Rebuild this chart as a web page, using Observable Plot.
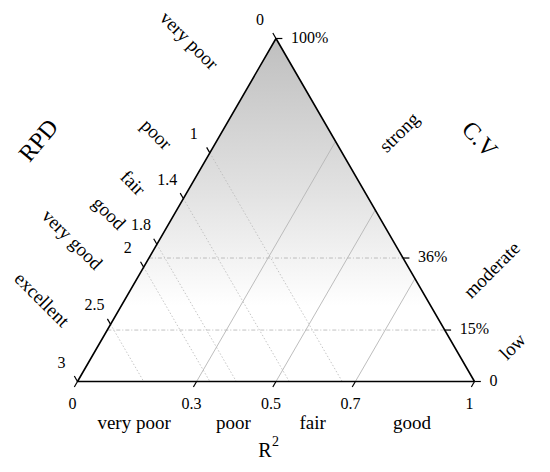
<!DOCTYPE html>
<html>
<head>
<meta charset="utf-8">
<script src="https://cdn.jsdelivr.net/npm/d3@7"></script>
<script src="https://cdn.jsdelivr.net/npm/@observablehq/plot@0.6"></script>
<style>
  html, body { margin: 0; padding: 0; background: #fff; }
  svg { display: block; }
</style>
</head>
<body>
<div id="chart"></div>
<script>
// ---- data ----
const r2Ticks = [0, 0.3, 0.5, 0.7, 1];
const r2TickLabels = ["0", "0.3", "0.5", "0.7", "1"];
const r2Classes = ["very poor", "poor", "fair", "good"];

const rpdTicks = [0, 1, 1.4, 1.8, 2, 2.5, 3];
const rpdTickLabels = ["0", "1", "1.4", "1.8", "2", "2.5", "3"];
const rpdClasses = ["very poor", "poor", "fair", "good", "very good", "excellent"];

const cvTicks = [0, 0.15, 0.36, 1];
const cvTickLabels = ["0", "15%", "36%", "100%"];
const cvClasses = ["low", "moderate", "strong"];

const rpdMax = 3;

// ---- ternary geometry (data space) ----
const H = Math.sqrt(3) / 2;
const bottomPt = r => [r, 0];
const rightPt = c => [1 - c / 2, c * H];
const leftPt = v => { const f = v / rpdMax; return [0.5 - 0.5 * f, H * (1 - f)]; };
const L = 0.016;

const mids = ticks => ticks.slice(0, -1).map((t, i) => (t + ticks[i + 1]) / 2);

// triangle outline
const tri = [bottomPt(0), bottomPt(1), rightPt(1), bottomPt(0)];

// grid lines
const solidGrid = r2Ticks.filter(r => r > 0 && r < 1).map(r => ({
  a: bottomPt(r), b: [r + 0.5 * (1 - r), H * (1 - r)]
}));
const dashGrid = cvTicks.filter(c => c > 0 && c < 1).map(c => ({
  a: [c / 2, c * H], b: rightPt(c)
}));
const dotGrid = rpdTicks.filter(v => v > 0 && v < rpdMax).map(v => ({
  a: leftPt(v), b: [1 - v / rpdMax, 0]
}));

// tick marks
const tickSegs = [
  ...r2Ticks.map(r => { const p = bottomPt(r); return {a: p, b: [p[0] - 0.5 * L, p[1] - H * L]}; }),
  ...rpdTicks.map(v => { const p = leftPt(v); return {a: p, b: [p[0] - 0.5 * L, p[1] + H * L]}; }),
  ...cvTicks.map(c => { const p = rightPt(c); return {a: p, b: [p[0] + L, p[1]]}; })
];

const font = "Liberation Serif";
const ink = "#000";

const linkOpts = {x1: d => d.a[0], y1: d => d.a[1], x2: d => d.b[0], y2: d => d.b[1]};
const center = {textAnchor: "middle", lineAnchor: "middle"};

const plot = Plot.plot({
  width: 550,
  height: 472,
  marginLeft: 77,
  marginRight: 76,
  marginTop: 38,
  marginBottom: 91,
  x: {domain: [0, 1], axis: null},
  y: {domain: [0, H], axis: null},
  style: {fontFamily: font, background: "#fff"},
  marks: [
    // gradient-filled triangle
    Plot.line(tri, {x: d => d[0], y: d => d[1], fill: "url(#triGrad)", stroke: "none"}),
    // grid
    Plot.link(dotGrid, {...linkOpts, stroke: "#b8b8b8", strokeWidth: 0.8, strokeDasharray: "1.5,2"}),
    Plot.link(dashGrid, {...linkOpts, stroke: "#b0b0b0", strokeWidth: 0.8, strokeDasharray: "4,2,1,2"}),
    Plot.link(solidGrid, {...linkOpts, stroke: "#b5b5b5", strokeWidth: 0.9}),
    // outline
    Plot.line(tri, {x: d => d[0], y: d => d[1], stroke: "#000", strokeWidth: 1.6, strokeLinejoin: "miter"}),
    // ticks
    Plot.link(tickSegs, {...linkOpts, stroke: "#000", strokeWidth: 1.2}),
    // tick labels
    Plot.text(r2Ticks, {x: r => bottomPt(r)[0], y: r => bottomPt(r)[1], text: (r, i) => r2TickLabels[i],
      dx: -5, dy: 22, fontSize: 16, fill: ink}),
    Plot.text(rpdTicks, {x: v => leftPt(v)[0], y: v => leftPt(v)[1], text: (v, i) => rpdTickLabels[i],
      dx: -16, dy: -19, fontSize: 16, fill: ink}),
    Plot.text(cvTicks, {x: c => rightPt(c)[0], y: c => rightPt(c)[1], text: (c, i) => cvTickLabels[i],
      dx: 15, dy: -1, textAnchor: "start", fontSize: 16, fill: ink}),
    // class labels
    Plot.text(mids(r2Ticks), {x: r => bottomPt(r)[0], y: r => bottomPt(r)[1], text: (r, i) => r2Classes[i],
      dx: -3, dy: 41, fontSize: 19, fill: ink}),
    Plot.text(mids(rpdTicks), {x: v => leftPt(v)[0], y: v => leftPt(v)[1], text: (v, i) => rpdClasses[i],
      dx: -28, dy: -29, rotate: 45, textAnchor: "end", fontSize: 19, fill: ink}),
    Plot.text(mids(cvTicks), {x: c => rightPt(c)[0], y: c => rightPt(c)[1], text: (c, i) => cvClasses[i],
      dx: 43, dy: 1, rotate: -45, textAnchor: "start", fontSize: 19, fill: ink}),
    // axis titles
    Plot.text(["RPD"], {frameAnchor: "top-left", dx: -39, dy: 102, rotate: -50, fontSize: 24, fill: ink, ...center}),
    Plot.text(["C.V"], {frameAnchor: "top-right", dx: 5, dy: 101, rotate: 47, fontSize: 24, fill: ink, ...center}),
    Plot.text(["R"], {frameAnchor: "bottom", dx: -11, dy: 69, fontSize: 20, fill: ink, ...center}),
    Plot.text(["2"], {frameAnchor: "bottom", dx: -4, dy: 60, fontSize: 14, fill: ink, textAnchor: "start", lineAnchor: "middle"})
  ]
});

// gradient definition
const defs = d3.create("svg:defs");
const grad = defs.append("linearGradient")
  .attr("id", "triGrad").attr("x1", 0).attr("y1", 0).attr("x2", 0).attr("y2", 1);
grad.append("stop").attr("offset", "0%").attr("stop-color", "#bfbfbf");
grad.append("stop").attr("offset", "45%").attr("stop-color", "#e2e2e2");
grad.append("stop").attr("offset", "78%").attr("stop-color", "#ffffff");
grad.append("stop").attr("offset", "100%").attr("stop-color", "#ffffff");
plot.insertBefore(defs.node(), plot.firstChild);

document.getElementById("chart").appendChild(plot);
</script>
</body>
</html>
